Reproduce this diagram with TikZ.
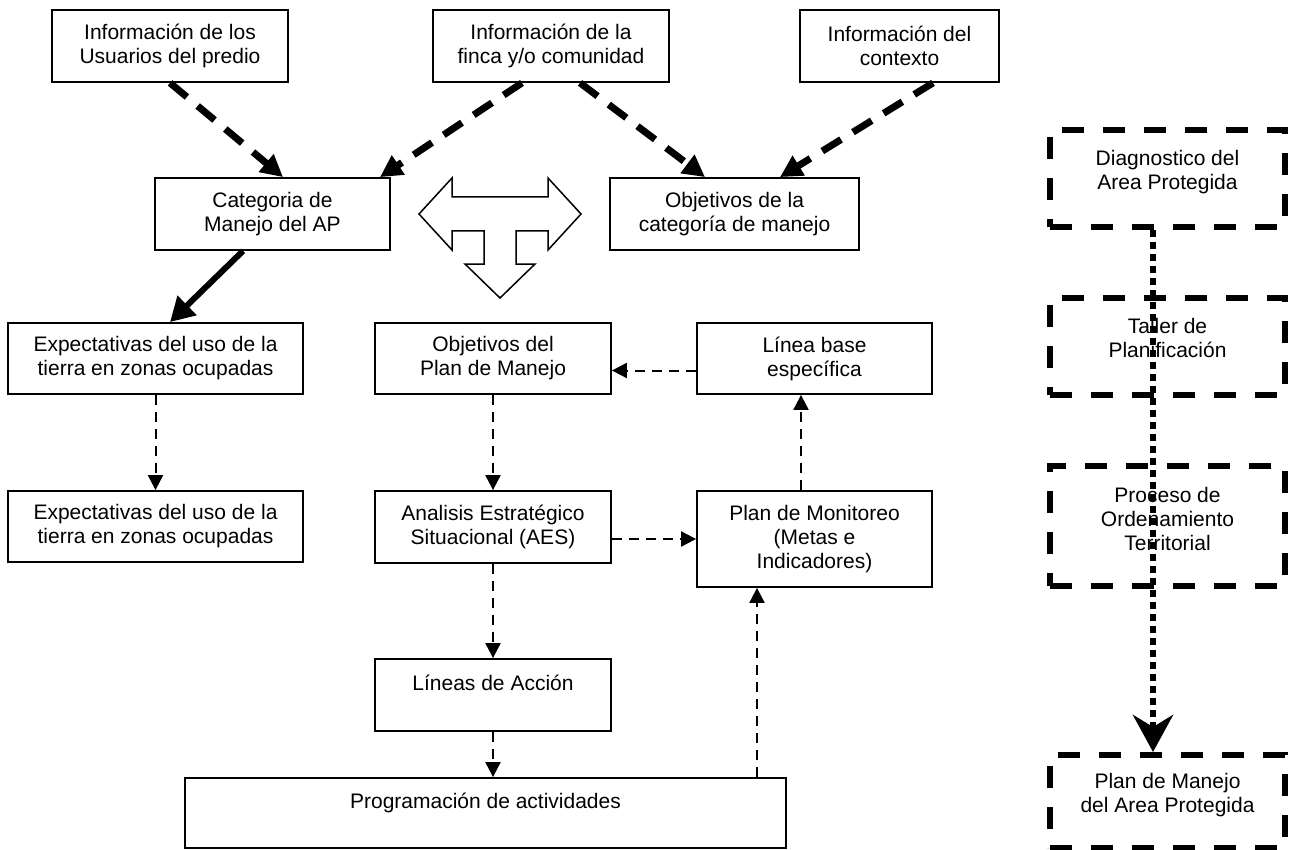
\documentclass[tikz,border=0pt]{standalone}
\usepackage{fontspec}
\setmainfont{Liberation Sans}
\usetikzlibrary{arrows.meta,calc}
\begin{document}
\begin{tikzpicture}[x=1pt,y=-1pt,
  every node/.style={font=\fontsize{21}{24}\selectfont, align=center, inner sep=0pt},
  box/.style={draw, line width=1.8pt},
  dbox/.style={draw, line width=6pt, dash pattern=on 22pt off 19pt},
  txt/.style={},
  thickdash/.style={line width=7pt, dash pattern=on 22pt off 14pt, -{Triangle[length=22pt,width=22pt]}},
  solidarrow/.style={line width=6pt, -{Triangle[length=24pt,width=26pt]}},
  smalldash/.style={line width=2pt, dash pattern=on 10pt off 7pt, -{Triangle[length=15pt,width=15pt]}},
  dotconn/.style={line width=6.5pt, dash pattern=on 7pt off 5pt, -{Stealth[length=37pt,width=40pt,inset=12pt]}}
]
\useasboundingbox (0,0) rectangle (1292,850);

% top row
\node[box, minimum width=236pt, minimum height=72pt] (b1) at (170,46) {Información de los\\Usuarios del predio};
\node[box, minimum width=236pt, minimum height=72pt] (b2) at (551,46) {Información de la\\finca y/o comunidad};
\node[box, minimum width=199pt, minimum height=72pt] (b3) at (899.5,46) {Información del\\contexto};

% second row
\node[box, minimum width=235pt, minimum height=72pt] (cat) at (272.5,214) {Categoria de\\Manejo del AP};
\node[box, minimum width=249pt, minimum height=72pt] (objcat) at (734.5,214) {Objetivos de la\\categoría de manejo};

% double arrow shape
\draw[line width=1.5pt, line join=miter] (419,214) -- (452,178) -- (452,197) -- (548,197) -- (548,178) -- (581,214) -- (548,250) -- (548,231) -- (516,231) -- (516,264) -- (535,264) -- (500,298) -- (465,264) -- (484,264) -- (484,231) -- (452,231) -- (452,250) -- cycle;

% third row
\node[box, minimum width=295pt, minimum height=71pt] (exp1) at (155.5,358.5) {Expectativas del uso de la\\tierra en zonas ocupadas};
\node[box, minimum width=236pt, minimum height=71pt] (objplan) at (493,358.5) {Objetivos del\\Plan de Manejo};
\node[box, minimum width=235pt, minimum height=71pt] (linea) at (814.5,358.5) {Línea base\\específica};

% fourth row
\node[box, minimum width=295pt, minimum height=71pt] (exp2) at (155.5,526.5) {Expectativas del uso de la\\tierra en zonas ocupadas};
\node[box, minimum width=236pt, minimum height=72pt] (anal) at (493,527) {Analisis Estratégico\\Situacional (AES)};
\node[box, minimum width=235pt, minimum height=96pt] (mon) at (814.5,539) {Plan de Monitoreo\\(Metas e\\Indicadores)};

% lower
\node[box, minimum width=236pt, minimum height=72pt] (lineas) at (493,695) {Líneas de Acción\\\mbox{}};
\node[box, minimum width=601pt, minimum height=70pt] (prog) at (485.5,813) {Programación de actividades\\\mbox{}};

% right column
\node[dbox, minimum width=235pt, minimum height=97pt] (diag) at (1167.5,178.5) {};
\node[dbox, minimum width=235pt, minimum height=97pt] (taller) at (1167.5,346.5) {};
\node[dbox, minimum width=235pt, minimum height=120pt] (proc) at (1167.5,526) {};
\node[dbox, minimum width=235pt, minimum height=93pt] (planm) at (1167.5,801.5) {};
\node[txt] (diagt) at (1167.5,172) {Diagnostico del\\Area Protegida};
\node[txt] (tallert) at (1167.5,338) {Taller de\\Planificación};
\node[txt] (proct) at (1167.5,519) {Proceso de\\Ordenamiento\\Territorial};
\node[txt] (planmt) at (1167.5,795) {Plan de Manejo\\del Area Protegida};

% connectors
\draw[thickdash] (b1.south) -- ($(cat.north)+(10.5,0)$);
\draw[thickdash] ($(b2.south)+(-29,0)$) -- ($(cat.north)+(107.5,0)$);
\draw[thickdash] ($(b2.south)+(29,0)$) -- ($(objcat.north)+(-29.5,0)$);
\draw[thickdash] ($(b3.south)+(33.5,0)$) -- ($(objcat.north)+(45.5,0)$);
\draw[solidarrow] ($(cat.south)+(-29.5,0)$) -- ($(exp1.north)+(14.5,0)$);

\draw[smalldash] (exp1.south) -- (exp2.north);
\draw[smalldash] (objplan.south) -- (anal.north);
\draw[smalldash] (anal.south) -- (lineas.north);
\draw[smalldash] (lineas.south) -- (lineas.south |- prog.north);
\draw[smalldash] (anal.east |- mon.west) -- (mon.west);
\coordinate (lb) at ($(linea.west)+(0,12)$);
\draw[smalldash] (lb) -- (lb -| objplan.east);
\coordinate (ms) at ($(mon.north)+(-13.5,0)$);
\draw[smalldash] (ms) -- (ms |- linea.south);
\coordinate (ps) at ($(mon.south)+(-57.5,0)$);
\draw[smalldash] (ps |- prog.north) -- (ps);

\coordinate (ds) at ($(diag.south)+(-14.5,0)$);
\draw[dotconn] (ds) -- (ds |- planm.north);
\end{tikzpicture}
\end{document}
